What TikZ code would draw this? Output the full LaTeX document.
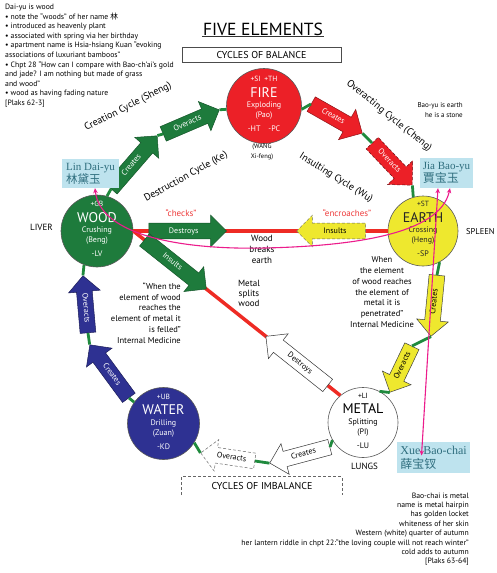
\documentclass[tikz,border=0pt]{standalone}
\usepackage{fontspec}
\setmainfont{PT Sans}
\newfontfamily\cjk{Noto Sans CJK SC}
\newfontfamily\nameserif{Liberation Serif}
\usetikzlibrary{shapes.arrows,calc,arrows.meta}

\definecolor{woodg}{HTML}{1E7B3C}
\definecolor{ringg}{HTML}{1F8A3D}
\definecolor{firer}{HTML}{EC2027}
\definecolor{earthy}{HTML}{EEE82E}
\definecolor{watern}{HTML}{2E3192}
\definecolor{redline}{HTML}{EE2B24}
\definecolor{magen}{HTML}{EC1C8C}
\definecolor{boxb}{HTML}{BEE3EE}
\definecolor{namec}{HTML}{2F6E7E}
\definecolor{redtxt}{HTML}{EE3A3A}

\newcommand\elsmall{\fontsize{7.5}{8}\selectfont}
\newcommand\elbig{\fontsize{14}{14}\selectfont}
\newcommand\elmid{\fontsize{8}{9}\selectfont}
\newcommand\elemtext[5]{%
  \hbox to 0pt{\hss\vbox to 0pt{\vss\offinterlineskip
  \halign{\hfil##\hfil\cr
  \elsmall\vrule height6pt depth0pt width0pt\smash{#1}\cr
  \elbig\vrule height15.4pt depth0pt width0pt\smash{#2}\cr
  \elmid\vrule height10.8pt depth0pt width0pt\smash{#3}\cr
  \elmid\vrule height9.7pt depth0pt width0pt\smash{#4}\cr
  \elmid\vrule height14.3pt depth4.6pt width0pt\smash{#5}\cr}%
  \vss}\hss}}

\newcommand\blockarrow[5]{%
  \path let \p1=#3, \p2=#4,
    \n1={atan2(\y2-\y1,\x2-\x1)},
    \n2={veclen(\x2-\x1,\y2-\y1)},
    \n3={cos(\n1)<0?180:0} in
    node[barrow,#1,anchor=tail,rotate=\n1+\n3,shape border rotate=\n3,minimum height=\n2] (#2) at (\p1) {#5};}

\tikzset{
  elem/.style={circle, draw=black!65, line width=0.6pt, inner sep=0pt},
  barrow/.style={single arrow, single arrow head extend=8pt, single arrow head indent=0pt,
     inner xsep=3pt, inner ysep=4.5pt, text height=5.2pt, text depth=1pt,
     font=\fontsize{8}{8}\selectfont, line width=0.5pt},
  garrow/.style={fill=woodg, draw=woodg!70!black, text=white},
  rarrow/.style={fill=firer, draw=firer!60!black, text=white, single arrow head extend=9pt, inner ysep=5pt},
  yarrow/.style={fill=earthy, draw=black!75, text=black},
  warrow/.style={fill=white, draw=black!80, text=black},
  narrow/.style={fill=watern, draw=watern!60!black, text=white},
  dsh/.style={dashed, dash pattern=on 3pt off 2pt, draw=black!60},
  ring/.style={draw=ringg, line width=2.8pt},
  redl/.style={draw=redline, line width=3.5pt},
  cyc/.style={font=\fontsize{10}{12}\selectfont, inner sep=0pt},
  note/.style={font=\fontsize{7.7}{9.6}\selectfont, align=left, inner sep=0pt},
  quote/.style={font=\fontsize{8.5}{10.8}\selectfont, inner sep=0pt},
  namebox/.style={fill=boxb, text=namec, align=left, inner sep=2pt, font=\nameserif\fontsize{11}{13}\selectfont},
  mag/.style={draw=magen, line width=1.1pt, {Stealth[length=5pt,width=4.5pt]}-{Stealth[length=5pt,width=4.5pt]}},
  organ/.style={font=\fontsize{9}{10}\selectfont, inner sep=0pt},
  redword/.style={font=\fontsize{9}{10}\selectfont, text=redtxt, inner sep=0pt}
}

\begin{document}
\begin{tikzpicture}[x=1pt,y=-1pt]
\fill[white] (0,0) rectangle (497,573);
\useasboundingbox (0,0) rectangle (497,573);

% titles
\node[font=\fontsize{17.5}{19}\selectfont, inner sep=1pt] (title) at (263,29) {FIVE ELEMENTS};
\draw[line width=0.8pt, black!80] ($(title.south west)+(0,-0.5)$) -- ($(title.south east)+(0,-0.5)$);
\node[draw=black!70, line width=0.7pt, minimum width=159pt, minimum height=15pt, inner sep=0pt,
      font=\fontsize{10}{11}\selectfont] (bal) at (261.5,54.5) {CYCLES OF BALANCE};
\node[minimum width=160pt, minimum height=18pt, inner sep=0pt, font=\fontsize{10}{11}\selectfont] (imb) at (262,486) {CYCLES OF IMBALANCE};
\draw[dsh, line width=0.7pt] (imb.south west) -- (imb.north west) -- (imb.north east) -- (imb.south east);

% elements
\node[elem, fill=firer, text=white, minimum size=75pt] (fire) at (264,106)
  {\elemtext{+SI\enspace +TH}{FIRE}{Exploding}{(Pao)}{-HT\enspace\enspace -PC}};
\node[elem, fill=woodg, text=white, minimum size=72pt] (wood) at (97,231)
  {\elemtext{+GB}{WOOD}{Crushing}{(Beng)}{-LV}};
\node[elem, fill=earthy, text=black!85, minimum size=70pt] (earth) at (423,231)
  {\elemtext{+ST}{EARTH}{Crossing}{(Heng)}{-SP}};
\node[elem, fill=watern, text=white, minimum size=72pt] (water) at (163.5,423.5)
  {\elemtext{+UB}{WATER}{Drilling}{(Zuan)}{-KD}};
\node[elem, fill=white, text=black, minimum size=70pt] (metal) at (363,422.5)
  {\elemtext{+LI}{METAL}{Splitting}{(PI)}{-LU}};

% destruction lines
\draw[redl] (wood.east) -- (earth.west);
\draw[redl] (wood.east) -- (metal.130);
\coordinate (h1) at ($(wood.east)!0.06!(earth.west)$);
\coordinate (h2) at ($(wood.east)!0.365!(earth.west)$);
\coordinate (h3) at ($(wood.east)!0.643!(earth.west)$);
\coordinate (h4) at ($(wood.east)!0.914!(earth.west)$);
\coordinate (d1) at ($(wood.east)!0.053!(metal.130)$);
\coordinate (d2) at ($(wood.east)!0.352!(metal.130)$);
\coordinate (d3) at ($(wood.east)!0.641!(metal.130)$);
\coordinate (d4) at ($(wood.east)!0.94!(metal.130)$);

% block arrows
\blockarrow{garrow}{A1}{(111,189)}{(157,136)}{Creates}
\blockarrow{garrow}{A2}{(163,134)}{(219,110)}{Overacts}
\blockarrow{rarrow}{B1}{(311,104)}{(362,133)}{Creates}
\blockarrow{rarrow,dsh,draw=firer!45!black}{B2}{(372,143)}{(412,185)}{Overacts}
\blockarrow{yarrow}{C1}{(437,275)}{(431,336)}{Creates}
\blockarrow{yarrow}{C2}{(412,346)}{(390,392)}{Overacts}
\blockarrow{warrow}{D1}{(330,447)}{(270,463)}{Creates}
\blockarrow{warrow,dsh}{D2}{(255,461)}{(201,453)}{Overacts}
\blockarrow{narrow}{E1}{(129,398)}{(90,345)}{Creates}
\blockarrow{narrow}{E2}{(88,333)}{(83,276)}{Overacts}
\blockarrow{garrow}{F1}{(h1)}{(h2)}{Destroys}
\blockarrow{yarrow,dsh}{F2}{(h4)}{(h3)}{Insults}
\blockarrow{garrow}{G1}{(d1)}{(d2)}{Insults}
\blockarrow{warrow}{G2}{(d4)}{(d3)}{Destroys}

% creation ring
\draw[ring] (wood.74) -- (A1.tail);
\draw[ring] (A1.tip) -- (A2.tail);
\draw[ring] (A2.tip) -- (fire.185);
\draw[ring] (fire.-5) -- (B1.tail);
\draw[ring] (B1.tip) -- (B2.tail);
\draw[ring] (B2.tip) -- (earth.106);
\draw[ring] (earth.-62) -- (C1.tail);
\draw[ring] (C1.tip) -- (C2.tail);
\draw[ring] (C2.tip) -- (metal.62);
\draw[ring] (metal.210) -- (D1.tail);
\draw[ring] (D1.tip) -- (D2.tail);
\draw[ring] (D2.tip) -- (water.-32);
\draw[ring] (water.144) -- (E1.tail);
\draw[ring] (E1.tip) -- (E2.tail);
\draw[ring] (E2.tip) -- (wood.-111);

% cycle labels
\node[cyc, rotate=27] (lcre) at (128,107) {Creation Cycle (Sheng)};
\node[cyc, rotate=-39] (love) at (389,116) {Overacting Cycle (Cheng)};
\node[cyc, rotate=29] (ldes) at (186,177) {Destruction Cycle (Ke)};
\node[cyc, rotate=-32] (lins) at (336,178) {Insulting Cycle (Wu)};

% other labels
\node[font=\fontsize{6.5}{10}\selectfont, align=center, inner sep=0pt] (wang) at (262,152) {(WANG\\Xi-feng)};
\node[redword] (checks) at (181,213) {“checks”};
\node[redword] (encr) at (347,213) {“encroaches”};
\node[quote, align=center, font=\fontsize{9}{11}\selectfont] (wbe) at (262,249) {Wood\\breaks\\earth};
\node[quote, align=center, font=\fontsize{9}{10}\selectfont] (msw) at (249,293) {Metal\\splits\\wood};
\node[quote, align=right, anchor=north east] (qleft) at (181,282.5)
  {“When the\\element of wood\\reaches the\\element of metal it\\is felled”\\Internal Medicine};
\node[quote, align=center, anchor=north] (qright) at (382,256.5)
  {When\\the element\\of wood reaches\\the element of\\metal it is\\penetrated”\\Internal Medicine};
\node[organ] (liver) at (41.5,227) {LIVER};
\node[organ, anchor=west, font=\fontsize{8.5}{10}\selectfont] (spleen) at (466,232) {SPLEEN};
\node[organ] (lungs) at (364.5,466) {LUNGS};
\node[font=\fontsize{7}{10}\selectfont, align=right, anchor=north east, inner sep=0pt] (baoyu) at (463,102.5)
  {Bao-yu is earth\\he is a stone};

\node[note, anchor=north west] (daiyu) at (5,3.8)
  {Dai-yu is wood\\
   • note the “woods” of her name {\cjk 林}\\
   • introduced as heavenly plant\\
   • associated with spring via her birthday\\
   • apartment name is Hsia-hsiang Kuan “evoking\\
   associations of luxuriant bamboos”\\
   • Chpt 28 “How can I compare with Bao-ch’ai’s gold\\
   and jade? I am nothing but made of grass\\
   and wood”\\
   • wood as having fading nature\\
   {[Plaks 62-3]}};
\node[note, align=right, anchor=north east, font=\fontsize{7.7}{9.4}\selectfont] (baochai) at (469,492.5)
  {Bao-chai is metal\\
   name is metal hairpin\\
   has golden locket\\
   whiteness of her skin\\
   Western (white) quarter of autumn\\
   her lantern riddle in chpt 22:“the loving couple will not reach winter”\\
   cold adds to autumn\\
   {[Plaks 63-64]}};

% name boxes
\node[namebox, minimum width=57pt, minimum height=29pt] (lin) at (90.5,173.5)
  {Lin Dai-yu\\{\cjk\fontsize{11.5}{13}\selectfont 林黛玉}};
\node[namebox, minimum width=53pt, minimum height=30pt] (jia) at (446.5,173)
  {Jia Bao-yu\\{\cjk\fontsize{12}{13}\selectfont 賈宝玉}};
\node[namebox, minimum width=73pt, minimum height=31pt, font=\nameserif\fontsize{12}{14}\selectfont] (xue) at (433.5,457.5)
  {Xue Bao-chai\\{\cjk\fontsize{12}{13}\selectfont 薛宝钗}};

% relations
\draw[mag] ($(lin.south)+(4.5,0)$) .. controls (100,235) and (180,250) .. (265,248)
  .. controls (350,246) and (440,235) .. ($(jia.south)+(3.5,0)$);
\draw[mag] ($(jia.south)+(-8.5,0)$) -- ($(xue.center)+(-12,-2)$);
\end{tikzpicture}
\end{document}
